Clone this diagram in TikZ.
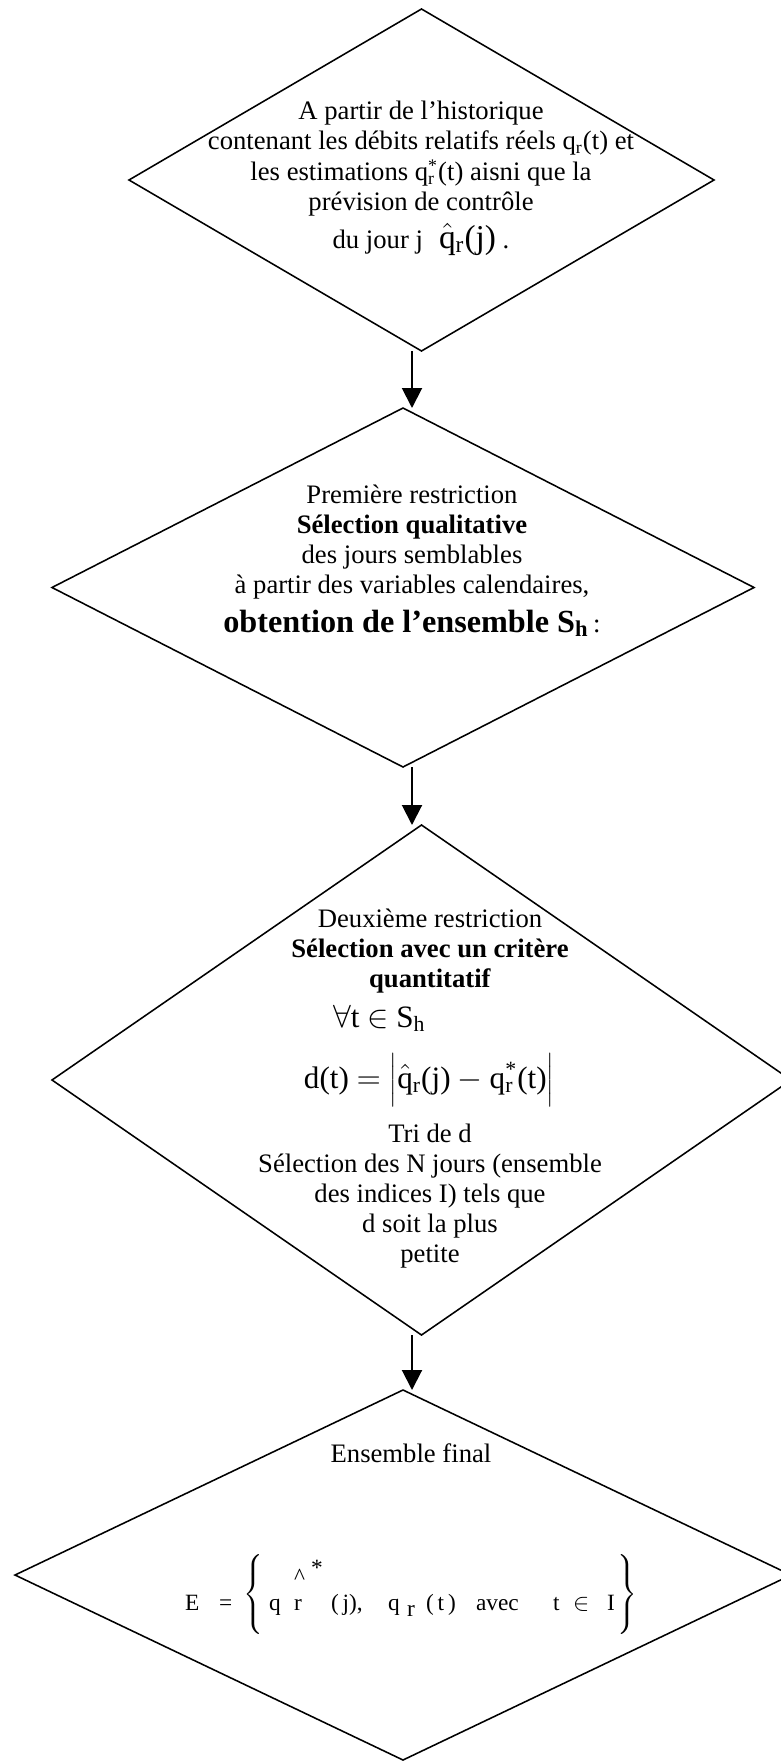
\documentclass[tikz,border=0pt]{standalone}
\usepackage{fontspec}
\setmainfont{Liberation Serif}
\usetikzlibrary{shapes.geometric,arrows.meta}
\begin{document}
\begin{tikzpicture}[x=0.45pt,y=-0.45pt,
  dia/.style={draw,line width=0.7pt,shape=diamond,inner sep=0pt,outer sep=0pt},
  txt/.style={inner sep=0pt,outer sep=0pt,anchor=base,font=\fontsize{12}{13.6}\selectfont},
  fm/.style={inner sep=0pt,outer sep=0pt,anchor=base west,font=\fontsize{10.5}{12}\selectfont},
  arr/.style={line width=0.9pt,-{Triangle[length=9pt,width=9pt]}}]
\useasboundingbox (0,0) rectangle (781,1762);
\clip (0,0) rectangle (781,1762);
% diamonds
\node[dia,minimum width=263.25pt,minimum height=153.9pt] (d1) at (421.5,180) {};
\node[dia,minimum width=315.9pt,minimum height=161.55pt] (d2) at (403,587.5) {};
\node[dia,minimum width=332.55pt,minimum height=229.5pt] (d3) at (421.5,1080) {};
\node[dia,minimum width=349.2pt,minimum height=166.5pt] (d4) at (403,1575) {};
% connectors
\coordinate (ax) at (412,0);
\draw[arr] (d1.south -| ax) -- (d2.north -| ax);
\draw[arr] (d2.south -| ax) -- (d3.north -| ax);
\draw[arr] (d3.south -| ax) -- (d4.north -| ax);
% text of diamond 1
\node[txt] (t1a) at (421,120) {A partir de l’historique};
\node[txt] (t1b) at (421,150) {contenant les débits relatifs réels q\textsubscript{r}(t) et};
\node[txt] (t1c) at (421,181) {les estimations q\rlap{\textsubscript{r}}\textsuperscript{*}(t) aisni que la};
\node[txt] (t1d) at (421,211) {prévision de contrôle};
\node[txt] (t1e) at (421,248) {du jour j\hspace{0.6em}{\fontsize{15}{17}\selectfont$\hat{\mbox{q}}$\textsubscript{r}(j)} .};
% text of diamond 2
\node[txt] (t2a) at (412,503) {Première restriction};
\node[txt] (t2b) at (412,533) {\textbf{Sélection qualitative}};
\node[txt] (t2c) at (412,563) {des jours semblables};
\node[txt] (t2d) at (412,593) {à partir des variables calendaires,};
\node[txt] (t2e) at (412,632) {{\fontsize{14.5}{16}\selectfont\bfseries obtention de l’ensemble S\textsubscript{h}}\,:};
% text of diamond 3
\node[txt] (t3a) at (430,927) {Deuxième restriction};
\node[txt] (t3b) at (430,957) {\textbf{Sélection avec un critère}};
\node[txt] (t3c) at (430,987) {\textbf{quantitatif}};
\node[txt,anchor=base west,font=\fontsize{14}{16}\selectfont] (t3d) at (333,1027) {$\forall$t $\in$ S\textsubscript{h}};
\node[txt,font=\fontsize{14}{16}\selectfont] (t3e) at (429,1088) {d(t) $=\left|\vrule height 15pt depth 9pt width 0pt\hat{\mbox{q}}\mbox{\textsubscript{r}(j)}-\mbox{q\rlap{\textsubscript{r}}\textsuperscript{*}(t)}\right|$};
\node[txt] (t3f) at (430,1142) {Tri de d};
\node[txt] (t3g) at (430,1172) {Sélection des N jours (ensemble};
\node[txt] (t3h) at (430,1202) {des indices I) tels que};
\node[txt] (t3i) at (430,1232) {d soit la plus};
\node[txt] (t3j) at (430,1262) {petite};
% text of diamond 4
\node[txt] (t4a) at (411,1462) {Ensemble final};
\node[fm] (f1) at (185,1610) {E};
\node[fm] (f2) at (219,1610) {=};
\node[inner sep=0pt] (f3) at (255,1596) {\fontsize{10.5}{12}\selectfont$\left\{\vrule height 17pt depth 17pt width 0pt\right.$};
\node[fm] (f4) at (269,1610) {q};
\node[fm] (f5) at (294,1610) {r};
\node[fm] (f6) at (294,1584) {\textasciicircum};
\node[fm] (f7) at (311,1575) {*};
\node[fm] (f8) at (331,1610) {(\,j),};
\node[fm] (f9) at (388,1610) {q};
\node[fm] (f10) at (407,1616) {r};
\node[fm] (f11) at (426,1610) {(\,t\,)};
\node[fm] (f12) at (476,1610) {avec};
\node[fm] (f13) at (553,1610) {t};
\node[fm] (f14) at (573,1610) {$\in$};
\node[fm] (f15) at (607,1610) {I};
\node[inner sep=0pt] (f16) at (626,1596) {\fontsize{10.5}{12}\selectfont$\left.\vrule height 17pt depth 17pt width 0pt\right\}$};
\end{tikzpicture}
\end{document}
